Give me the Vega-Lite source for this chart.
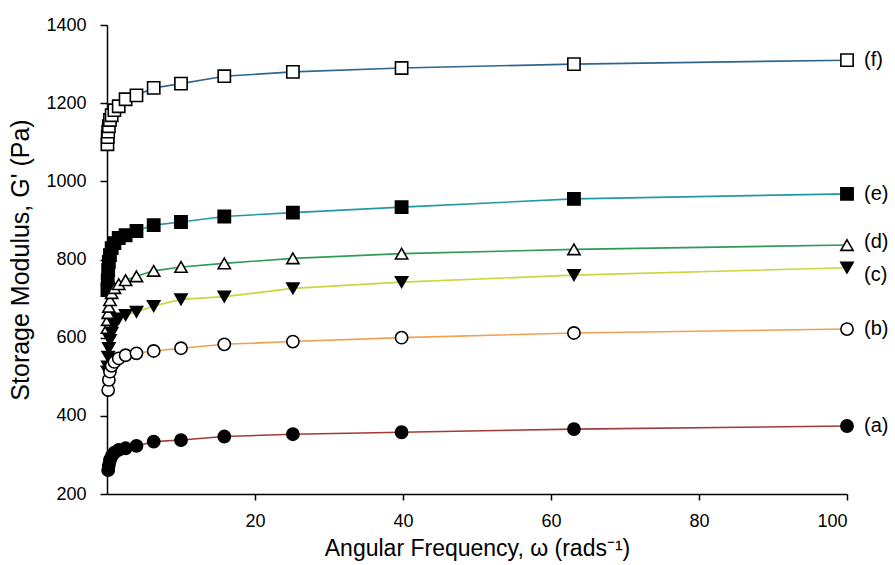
{
  "$schema": "https://vega.github.io/schema/vega-lite/v6.json",
  "width": 740,
  "height": 469,
  "autosize": {"type": "none"},
  "padding": {"left": 107, "top": 25, "right": 48, "bottom": 71},
  "background": "white",
  "config": {
    "view": {"stroke": null},
    "font": "Liberation Sans",
    "axis": {"grid": false, "domainColor": "black", "tickColor": "black", "domainWidth": 1.5, "tickWidth": 1.5, "labelColor": "black", "titleColor": "black", "labelFont": "Liberation Sans", "titleFont": "Liberation Sans", "titleFontWeight": "normal"}
  },
  "datasets": {
    "pts": [
      {"series":"f","freq":0.063,"G":1095},{"series":"f","freq":0.1,"G":1113},{"series":"f","freq":0.158,"G":1127},{"series":"f","freq":0.251,"G":1141},{"series":"f","freq":0.398,"G":1157},{"series":"f","freq":0.631,"G":1169},{"series":"f","freq":1,"G":1182},{"series":"f","freq":1.585,"G":1192},{"series":"f","freq":2.512,"G":1210},{"series":"f","freq":3.981,"G":1220},{"series":"f","freq":6.31,"G":1239},{"series":"f","freq":10,"G":1250},{"series":"f","freq":15.85,"G":1269},{"series":"f","freq":25.12,"G":1280},{"series":"f","freq":39.81,"G":1290},{"series":"f","freq":63.1,"G":1300},{"series":"f","freq":100,"G":1310},
      {"series":"e","freq":0.063,"G":722},{"series":"e","freq":0.1,"G":747},{"series":"e","freq":0.158,"G":773},{"series":"e","freq":0.251,"G":794},{"series":"e","freq":0.398,"G":811},{"series":"e","freq":0.631,"G":829},{"series":"e","freq":1,"G":842},{"series":"e","freq":1.585,"G":855},{"series":"e","freq":2.512,"G":862},{"series":"e","freq":3.981,"G":873},{"series":"e","freq":6.31,"G":888},{"series":"e","freq":10,"G":896},{"series":"e","freq":15.85,"G":910},{"series":"e","freq":25.12,"G":920},{"series":"e","freq":39.81,"G":934},{"series":"e","freq":63.1,"G":955},{"series":"e","freq":100,"G":968},
      {"series":"d","freq":0.063,"G":625},{"series":"d","freq":0.1,"G":645},{"series":"d","freq":0.158,"G":663},{"series":"d","freq":0.251,"G":679},{"series":"d","freq":0.398,"G":696},{"series":"d","freq":0.631,"G":714},{"series":"d","freq":1,"G":727},{"series":"d","freq":1.585,"G":737},{"series":"d","freq":2.512,"G":747},{"series":"d","freq":3.981,"G":757},{"series":"d","freq":6.31,"G":771},{"series":"d","freq":10,"G":781},{"series":"d","freq":15.85,"G":790},{"series":"d","freq":25.12,"G":803},{"series":"d","freq":39.81,"G":815},{"series":"d","freq":63.1,"G":826},{"series":"d","freq":100,"G":837},
      {"series":"c","freq":0.063,"G":513},{"series":"c","freq":0.1,"G":526},{"series":"c","freq":0.158,"G":551},{"series":"c","freq":0.251,"G":573},{"series":"c","freq":0.398,"G":594},{"series":"c","freq":0.631,"G":612},{"series":"c","freq":1,"G":632},{"series":"c","freq":1.585,"G":649},{"series":"c","freq":2.512,"G":658},{"series":"c","freq":3.981,"G":666},{"series":"c","freq":6.31,"G":681},{"series":"c","freq":10,"G":698},{"series":"c","freq":15.85,"G":705},{"series":"c","freq":25.12,"G":726},{"series":"c","freq":39.81,"G":742},{"series":"c","freq":63.1,"G":760},{"series":"c","freq":100,"G":779},
      {"series":"b","freq":0.158,"G":466},{"series":"b","freq":0.251,"G":492},{"series":"b","freq":0.398,"G":513},{"series":"b","freq":0.631,"G":528},{"series":"b","freq":1,"G":538},{"series":"b","freq":1.585,"G":547},{"series":"b","freq":2.512,"G":555},{"series":"b","freq":3.981,"G":560},{"series":"b","freq":6.31,"G":566},{"series":"b","freq":10,"G":573},{"series":"b","freq":15.85,"G":583},{"series":"b","freq":25.12,"G":590},{"series":"b","freq":39.81,"G":600},{"series":"b","freq":63.1,"G":612},{"series":"b","freq":100,"G":622},
      {"series":"a","freq":0.158,"G":261},{"series":"a","freq":0.251,"G":274},{"series":"a","freq":0.398,"G":287},{"series":"a","freq":0.631,"G":297},{"series":"a","freq":1,"G":306},{"series":"a","freq":1.585,"G":313},{"series":"a","freq":2.512,"G":317},{"series":"a","freq":3.981,"G":323},{"series":"a","freq":6.31,"G":334},{"series":"a","freq":10,"G":338},{"series":"a","freq":15.85,"G":347},{"series":"a","freq":25.12,"G":353},{"series":"a","freq":39.81,"G":358},{"series":"a","freq":63.1,"G":366},{"series":"a","freq":100,"G":374}
    ],
    "labels": [
      {"label":"(f)","freq":100,"G":1310},
      {"label":"(e)","freq":100,"G":968},
      {"label":"(d)","freq":100,"G":844},
      {"label":"(c)","freq":100,"G":760},
      {"label":"(b)","freq":100,"G":622},
      {"label":"(a)","freq":100,"G":374}
    ]
  },
  "layer": [
    {
      "data": {"name": "pts"},
      "mark": {"type": "line", "strokeWidth": 1.6},
      "encoding": {
        "x": {"field": "freq", "type": "quantitative", "scale": {"domain": [0, 100], "nice": false, "zero": false},
              "axis": {"values": [20, 40, 60, 80, 100], "format": "d", "tickSize": 6, "labelFontSize": 18, "labelPadding": 12, "title": "Angular Frequency, ω (rads⁻¹)", "titleFontSize": 23, "titlePadding": 7}},
        "y": {"field": "G", "type": "quantitative", "scale": {"domain": [200, 1400], "nice": false, "zero": false},
              "axis": {"values": [200, 400, 600, 800, 1000, 1200, 1400], "format": "d", "tickSize": 7, "labelFontSize": 18, "labelPadding": 14, "title": "Storage Modulus, G' (Pa)", "titleFontSize": 25, "titlePadding": 12}},
        "color": {"field": "series", "type": "nominal", "legend": null,
                  "scale": {"domain": ["a","b","c","d","e","f"], "range": ["#a33a3a", "#f0a050", "#c9d63c", "#2e9a55", "#1f9aa3", "#2f6690"]}},
        "order": {"field": "freq", "type": "quantitative"}
      }
    },
    {
      "data": {"name": "pts"},
      "mark": {"type": "point", "stroke": "black", "strokeWidth": 1.6, "opacity": 1, "filled": false},
      "encoding": {
        "x": {"field": "freq", "type": "quantitative"},
        "y": {"field": "G", "type": "quantitative"},
        "shape": {"field": "series", "type": "nominal", "legend": null,
                  "scale": {"domain": ["a","b","c","d","e","f"], "range": ["circle", "circle", "triangle-down", "triangle-up", "square", "square"]}},
        "fill": {"field": "series", "type": "nominal", "legend": null,
                 "scale": {"domain": ["a","b","c","d","e","f"], "range": ["black", "white", "black", "white", "black", "white"]}},
        "size": {"value": 150}
      }
    },
    {
      "data": {"name": "labels"},
      "mark": {"type": "text", "align": "left", "baseline": "middle", "dx": 17, "fontSize": 20, "font": "Liberation Sans", "color": "black"},
      "encoding": {
        "x": {"field": "freq", "type": "quantitative"},
        "y": {"field": "G", "type": "quantitative"},
        "text": {"field": "label"}
      }
    }
  ]
}
